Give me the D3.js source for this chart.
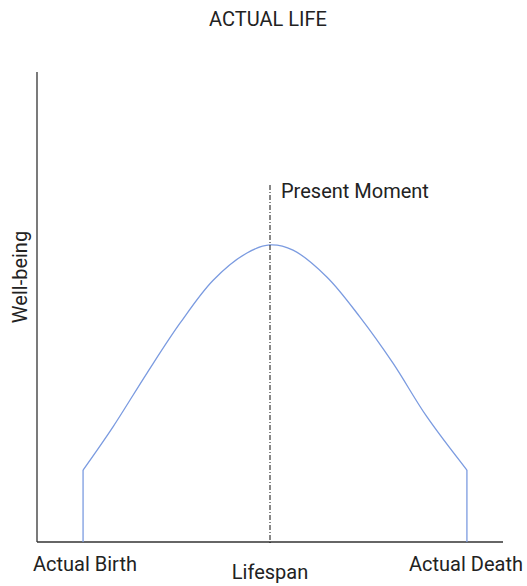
<!DOCTYPE html>
<html>
<head>
<meta charset="utf-8">
<script src="https://cdn.jsdelivr.net/npm/d3@7"></script>
<style>
  body { margin: 0; background: #fff; }
  text { font-family: Roboto, "Open Sans", sans-serif; fill: #222; }
</style>
</head>
<body>
<div id="chart"></div>
<script>
// lifespan position (birth = 0, death = 100) and well-being
var lifespan = [0, 7.8, 16.7, 25.3, 33.9, 42.7, 48.7, 54.7, 63.5, 72.1, 80.7, 89.6, 100];
var wellbeing = [15.3, 24.5, 36, 46.6, 55.7, 61.5, 63.2, 62.1, 56.4, 47.9, 38.1, 26.6, 15.3];
var presentMoment = 48.7;
var xLabels = ["Actual Birth", "Actual Death"];

var width = 527, height = 586;
var x0 = 37, x1 = 503, yBottom = 542, yTop = 72;
var fontSize = 20;

var svg = d3.select("#chart").append("svg")
    .attr("width", width)
    .attr("height", height);

var x = d3.scaleLinear().domain([-12, 109.4]).range([x0, x1]);
var y = d3.scaleLinear().domain([0, 100]).range([yBottom, yTop]);

// axes as plain lines
svg.append("line")
    .attr("x1", x0).attr("x2", x0)
    .attr("y1", y(100)).attr("y2", y(0))
    .attr("stroke", "#333").attr("stroke-width", 1.3);
svg.append("line")
    .attr("x1", x0).attr("x2", x1)
    .attr("y1", y(0)).attr("y2", y(0))
    .attr("stroke", "#333").attr("stroke-width", 1.3);

var pts = lifespan.map(function(d, i) { return [d, wellbeing[i]]; });

var line = d3.line()
    .x(function(d) { return x(d[0]); })
    .y(function(d) { return y(d[1]); })
    .curve(d3.curveCatmullRom.alpha(0.5));

var lineColor = "#7b9be0";

svg.append("path")
    .attr("d", line(pts))
    .attr("fill", "none")
    .attr("stroke", lineColor)
    .attr("stroke-width", 1.3);

// vertical drops at birth and death
[pts[0], pts[pts.length - 1]].forEach(function(p) {
    svg.append("line")
        .attr("x1", x(p[0])).attr("x2", x(p[0]))
        .attr("y1", y(p[1])).attr("y2", y(0))
        .attr("stroke", lineColor)
        .attr("stroke-width", 1.3);
});

// present moment marker
svg.append("line")
    .attr("x1", x(presentMoment)).attr("x2", x(presentMoment))
    .attr("y1", 185).attr("y2", y(0) + 3)
    .attr("stroke", "#111")
    .attr("stroke-width", 1)
    .attr("stroke-dasharray", "5,2,1,2");

svg.append("text")
    .attr("x", x(presentMoment) + 11)
    .attr("y", 198)
    .attr("font-size", fontSize)
    .text("Present Moment");

svg.append("text")
    .attr("x", 268)
    .attr("y", 26)
    .attr("text-anchor", "middle")
    .attr("font-size", fontSize)
    .text("ACTUAL LIFE");

svg.append("text")
    .attr("x", 33)
    .attr("y", 571)
    .attr("font-size", fontSize)
    .text(xLabels[0]);

svg.append("text")
    .attr("x", 523)
    .attr("y", 571)
    .attr("text-anchor", "end")
    .attr("font-size", fontSize)
    .text(xLabels[1]);

svg.append("text")
    .attr("x", x(presentMoment))
    .attr("y", 579)
    .attr("text-anchor", "middle")
    .attr("font-size", fontSize)
    .text("Lifespan");

svg.append("text")
    .attr("transform", "translate(27,277) rotate(-90)")
    .attr("text-anchor", "middle")
    .attr("font-size", fontSize)
    .text("Well-being");
</script>
</body>
</html>
